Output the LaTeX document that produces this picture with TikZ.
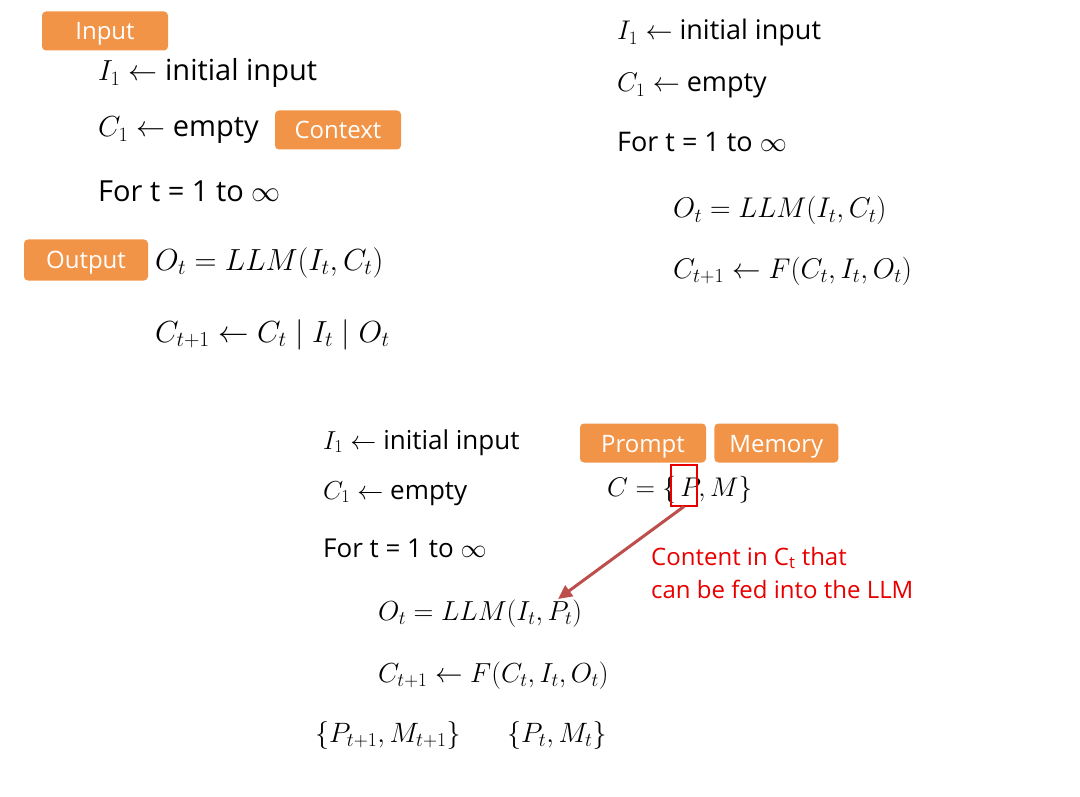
\documentclass[tikz,border=0pt]{standalone}
\usepackage{fix-cm}
\usepackage{amsmath}
\usepackage{fontspec}
\setmainfont{Open Sans}
\usetikzlibrary{arrows.meta,positioning}
\definecolor{corange}{RGB}{242,148,72}
\definecolor{cred}{RGB}{232,0,0}
\definecolor{cdarkred}{RGB}{190,78,75}
\tikzset{
  tag/.style={
    rectangle, rounded corners=4pt,
    fill=corange, text=white,
    minimum width=126pt, minimum height=39pt, inner sep=0pt,
    text height=18pt, text depth=0pt,
    font=\fontsize{24}{27}\selectfont
  },
  algo/.style={
    anchor=base west, inner sep=0pt,
    font=\fontsize{#1}{#1}\selectfont
  },
  algo/.default=29,
  note/.style={
    anchor=base west, inner sep=0pt, text=cred,
    font=\fontsize{24}{28}\selectfont
  },
  hilite/.style={
    rectangle, draw=cred, line width=2pt,
    minimum width=26pt, minimum height=41pt, inner sep=0pt
  },
  arr/.style={-{Triangle[length=14pt,width=13pt]}, line width=3pt, color=#1},
  arr/.default=cdarkred
}

\begin{document}
\begin{tikzpicture}[x=1pt,y=-1pt]
    \useasboundingbox[fill=white] (0,0) rectangle (1080,797);

    %% ---- TOP LEFT: plain concatenation ---------------------------
    \node[algo] (a1) at (98,81)  {$I_1 \leftarrow$ initial input};
    \node[algo] (a2) at (98,137) {$C_1 \leftarrow$ empty};
    \node[algo] (a3) at (98,202) {For t = 1 to $\infty$};
    \node[algo=30.5] (a4) at (155,270) {$O_t = LLM(I_t, C_t)$};
    \node[algo=30.5] (a5) at (155,342) {$C_{t+1} \leftarrow C_t \mid I_t \mid O_t$};

    \node[tag] (tin)  at (105,31)  {Input};
    \node[tag] (tctx) at (338,130) {Context};
    \node[tag, minimum width=124pt, minimum height=41pt] (tout) at (86,260) {Output};

    %% ---- TOP RIGHT: update function ------------------------------
    \node[algo=27] (b1) at (617,40)  {$I_1 \leftarrow$ initial input};
    \node[algo=27] (b2) at (617,92)  {$C_1 \leftarrow$ empty};
    \node[algo=27] (b3) at (617,152) {For t = 1 to $\infty$};
    \node[algo=28.5] (b4) at (673,218) {$O_t = LLM(I_t, C_t)$};
    \node[algo=28.5] (b5) at (673,278) {$C_{t+1} \leftarrow F(C_t, I_t, O_t)$};

    %% ---- BOTTOM: prompt + memory ---------------------------------
    \node[algo=26] (c1) at (323,449) {$I_1 \leftarrow$ initial input};
    \node[algo=26] (c2) at (323,499) {$C_1 \leftarrow$ empty};
    \node[algo=26] (c3) at (323,557) {For t = 1 to $\infty$};
    \node[algo=27.5] (c4) at (378,620) {$O_t = LLM(I_t, P_t)$};
    \node[algo=27.5] (c5) at (378,682) {$C_{t+1} \leftarrow F(C_t, I_t, O_t)$};
    \node[algo=28] (c6) at (315,742) {$\{P_{t+1}, M_{t+1}\}$};
    \node[algo=28] (c7) at (507,742) {$\{P_t, M_t\}$};

    \node[algo=27] (cpm) at (607,496) {$C = \{\,P, M\}$};

    \node[tag] (tprm) at (643,443) {Prompt};
    \node[tag, minimum width=124pt, right=8pt of tprm] (tmem) {Memory};

    \node[hilite] (pbox) at (684,485) {};
    \coordinate (ptip) at (558,599);
    \draw[arr] (pbox.south) -- (ptip);

    \node[note] (n1) at (651,565) {Content in C\textsubscript{t} that};
    \node[note] (n2) at (651,598) {can be fed into the LLM};

\end{tikzpicture}
\end{document}
